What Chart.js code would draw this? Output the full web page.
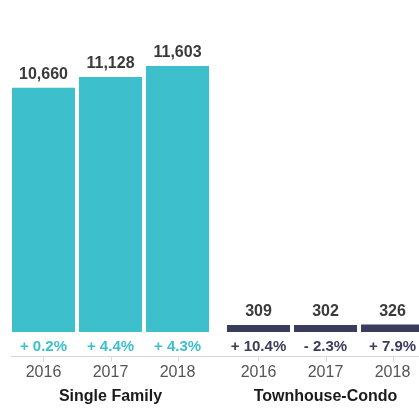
<!DOCTYPE html>
<html>
<head>
<meta charset="utf-8">
<script src="https://cdn.jsdelivr.net/npm/chart.js@4/dist/chart.umd.min.js"></script>
<style>
  html, body { margin: 0; padding: 0; background: #fff; overflow: hidden; width: 419px; height: 408px; }
  #wrap { position: absolute; left: 0; top: 0; width: 433px; height: 408px; }
</style>
</head>
<body>
<div id="wrap"><canvas id="c" width="433" height="408"></canvas></div>
<script>
const groups = ['Single Family', 'Townhouse-Condo'];
const years = ['2016', '2017', '2018'];
const singleFamily = [10660, 11128, 11603];
const townhouseCondo = [309, 302, 326];
const singleFamilyChange = [0.2, 4.4, 4.3];
const townhouseCondoChange = [10.4, -2.3, 7.9];
const Y_MAX = 12000;

const TEAL = '#3ebfcc';
const NAVY = '#3a3c5b';
const groupColors = [TEAL, NAVY];
const changes = [singleFamilyChange, townhouseCondoChange];
const FONT = '"Liberation Sans", Arial, Helvetica, sans-serif';

const datasets = years.map((y, i) => ({
  label: y,
  data: [singleFamily[i], townhouseCondo[i]],
  backgroundColor: groupColors,
  borderWidth: 0,
  categoryPercentage: 0.935,
  barPercentage: 0.94
}));

function fmtNum(v) { return v.toLocaleString('en-US'); }
function fmtPct(v) { return (v < 0 ? '- ' : '+ ') + Math.abs(v).toFixed(1) + '%'; }

const labelPlugin = {
  id: 'labels',
  afterDatasetsDraw(chart) {
    const ctx = chart.ctx;
    const area = chart.chartArea;
    const bottom = area.bottom;
    ctx.save();
    const bars = [];
    chart.data.datasets.forEach((ds, di) => {
      const meta = chart.getDatasetMeta(di);
      meta.data.forEach((bar, gi) => {
        bars.push({ bar, di, gi, value: ds.data[gi] });
      });
    });
    let minLeft = Infinity;
    bars.forEach(b => { minLeft = Math.min(minLeft, b.bar.x - b.bar.width / 2); });
    ctx.strokeStyle = '#d8d8d8';
    ctx.lineWidth = 1;
    ctx.beginPath();
    ctx.moveTo(minLeft - 1, bottom + 24.5);
    ctx.lineTo(chart.width, bottom + 24.5);
    ctx.stroke();

    bars.forEach(({ bar, di, gi, value }) => {
      const x = bar.x;
      ctx.fillStyle = '#3a3a3a';
      ctx.font = 'bold 16px ' + FONT;
      ctx.textAlign = 'center';
      ctx.textBaseline = 'alphabetic';
      ctx.fillText(fmtNum(value), x, bar.y - 9);
      ctx.fillStyle = groupColors[gi];
      ctx.font = 'bold 15px ' + FONT;
      ctx.textBaseline = 'middle';
      ctx.fillText(fmtPct(changes[gi][di]), x, bottom + 14.5);
      ctx.strokeStyle = '#d8d8d8';
      ctx.beginPath();
      ctx.moveTo(Math.round(x) + 0.5, bottom + 24.5);
      ctx.lineTo(Math.round(x) + 0.5, bottom + 29.5);
      ctx.stroke();
      ctx.fillStyle = '#555555';
      ctx.font = '16px ' + FONT;
      ctx.fillText(years[di], x, bottom + 41);
    });
    const xs = chart.scales.x;
    groups.forEach((g, gi) => {
      ctx.fillStyle = '#1a1a1a';
      ctx.font = 'bold 16px ' + FONT;
      ctx.textAlign = 'center';
      ctx.textBaseline = 'middle';
      ctx.fillText(g, xs.getPixelForValue(gi), bottom + 64.5);
    });
    ctx.restore();
  }
};

new Chart(document.getElementById('c'), {
  type: 'bar',
  data: { labels: groups, datasets },
  options: {
    responsive: false,
    animation: false,
    layout: { padding: { left: 3, right: 0, top: 57, bottom: 76 } },
    plugins: { legend: { display: false }, tooltip: { enabled: false } },
    scales: {
      x: { display: false },
      y: { display: false, min: 0, max: Y_MAX }
    }
  },
  plugins: [labelPlugin]
});
</script>
</body>
</html>
